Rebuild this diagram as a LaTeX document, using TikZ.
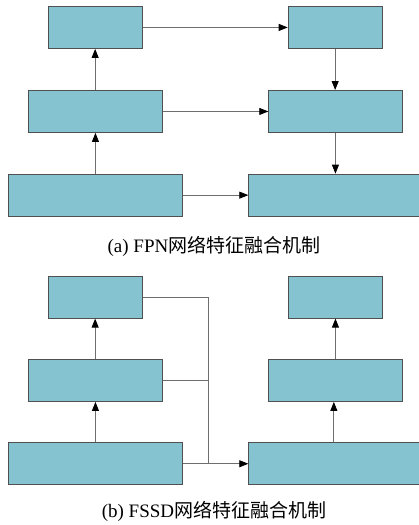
\documentclass[tikz,border=0pt]{standalone}
\usepackage{fontspec}
\setmainfont{Liberation Serif}
\newfontfamily\cjk{Noto Sans CJK SC}
\usetikzlibrary{arrows.meta}
\definecolor{boxfill}{HTML}{84C3CF}
\definecolor{boxline}{HTML}{505050}
\definecolor{conncol}{HTML}{6E6E6E}
\tikzset{
  fbox/.style={draw=boxline, line width=0.9pt, fill=boxfill, inner sep=0pt, anchor=north west, minimum height=42pt},
  connline/.style={draw=conncol, line width=0.8pt},
  arr/.style={connline, -{Triangle[length=9pt,width=7pt,fill=black,color=black]}},
  captext/.style={font=\fontsize{19}{22}\selectfont, inner sep=0pt}
}
\begin{document}
\begin{tikzpicture}[x=1pt,y=-1pt]
\useasboundingbox (0,0) rectangle (419,525);
% (a) FPN
\node[fbox, minimum width=93.4pt] (a1) at (48.3,6) {};
\node[fbox, minimum width=94pt] (a2) at (287.7,6) {};
\node[fbox, minimum width=134pt] (a3) at (27.7,90) {};
\node[fbox, minimum width=133.4pt] (a4) at (268.3,90) {};
\node[fbox, minimum width=173.4pt] (a5) at (8.3,173.7) {};
\node[fbox, minimum width=170.2pt] (a6) at (248.3,173.7) {};
\draw[arr] (a1.east) -- (a2.west);
\draw[arr] (a3.east) -- (a4.west);
\draw[arr] (a5.east) -- (a6.west);
\draw[arr] (a5.north) -- (a5.north |- a3.south);
\draw[arr] (a3.north) -- (a3.north |- a1.south);
\draw[arr] (a2.south) -- (a2.south |- a4.north);
\draw[arr] (a4.south) -- (a4.south |- a6.north);
\node[captext] (capa) at (214,246.5) {(a) FPN{\cjk 网络特征融合机制}};
% (b) FSSD
\node[fbox, minimum width=93.4pt] (b1) at (48.3,275.7) {};
\node[fbox, minimum width=94pt] (b2) at (287.7,275.7) {};
\node[fbox, minimum width=134pt] (b3) at (27.7,359) {};
\node[fbox, minimum width=133.4pt] (b4) at (268.3,359) {};
\node[fbox, minimum width=173.4pt] (b5) at (8.3,442.3) {};
\node[fbox, minimum width=170.2pt] (b6) at (248.3,442.3) {};
\coordinate (j) at (208.3,463.3);
\draw[connline] (b1.east) -| (j);
\draw[connline] (b3.east) -- (b3.east -| j);
\draw[arr] (b5.east) -- (b6.west);
\draw[arr] (b5.north) -- (b5.north |- b3.south);
\draw[arr] (b3.north) -- (b3.north |- b1.south);
\draw[arr] (b6.north) -- (b6.north |- b4.south);
\draw[arr] (b4.north) -- (b4.north |- b2.south);
\node[captext] (capb) at (214,511.5) {(b) FSSD{\cjk 网络特征融合机制}};
\end{tikzpicture}
\end{document}
